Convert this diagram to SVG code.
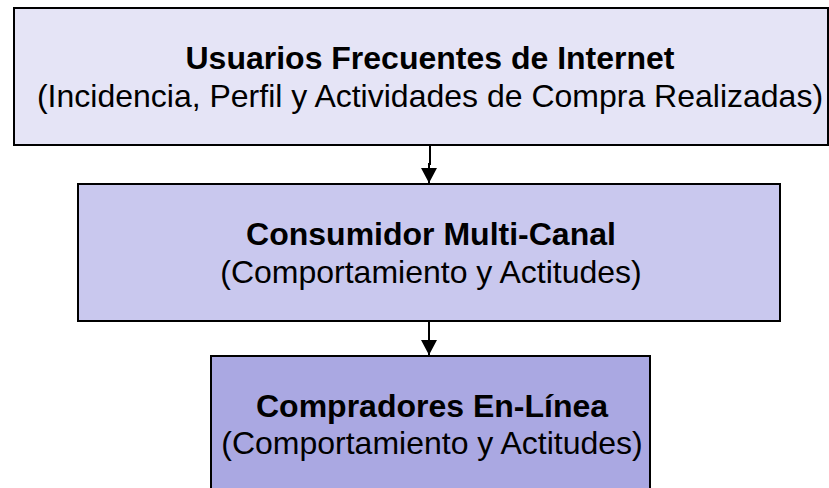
<svg xmlns="http://www.w3.org/2000/svg" width="829" height="488" viewBox="0 0 829 488">
<style>
.box{stroke:#000;stroke-width:2}
.t{font-family:"Liberation Sans",Arial,sans-serif;font-size:32px;text-anchor:middle;fill:#000}
.b{font-weight:bold}
.c{fill:none;stroke:#000;stroke-width:2}
</style>
<defs>
<marker id="ah" viewBox="0 0 15 16" markerWidth="15" markerHeight="16" refX="15" refY="8" orient="auto" markerUnits="userSpaceOnUse">
<path d="M0,0 L15,8 L0,16 z" fill="#000"/>
</marker>
</defs>
<rect width="829" height="488" fill="#fff"/>
<g id="node-usuarios">
<rect class="box" x="14" y="8" width="814" height="137" fill="#E5E4F6"/>
<text class="t b" x="430" y="69">Usuarios Frecuentes de Internet</text>
<text class="t" x="430" y="107">(Incidencia, Perfil y Actividades de Compra Realizadas)</text>
</g>
<g id="node-consumidor">
<rect class="box" x="78" y="184" width="702" height="137" fill="#C9C8EE"/>
<text class="t b" x="431" y="245">Consumidor Multi-Canal</text>
<text class="t" x="431" y="283">(Comportamiento y Actitudes)</text>
</g>
<g id="node-compradores">
<rect class="box" x="211" y="356" width="439" height="140" fill="#AAA8E2"/>
<text class="t b" x="432" y="417">Compradores En-Línea</text>
<text class="t" x="432" y="454">(Comportamiento y Actitudes)</text>
</g>
<g id="connectors">
<path class="c" d="M430,146 V164 H429 V183" marker-end="url(#ah)"/>
<path class="c" d="M429,322 V355" marker-end="url(#ah)"/>
</g>
</svg>
